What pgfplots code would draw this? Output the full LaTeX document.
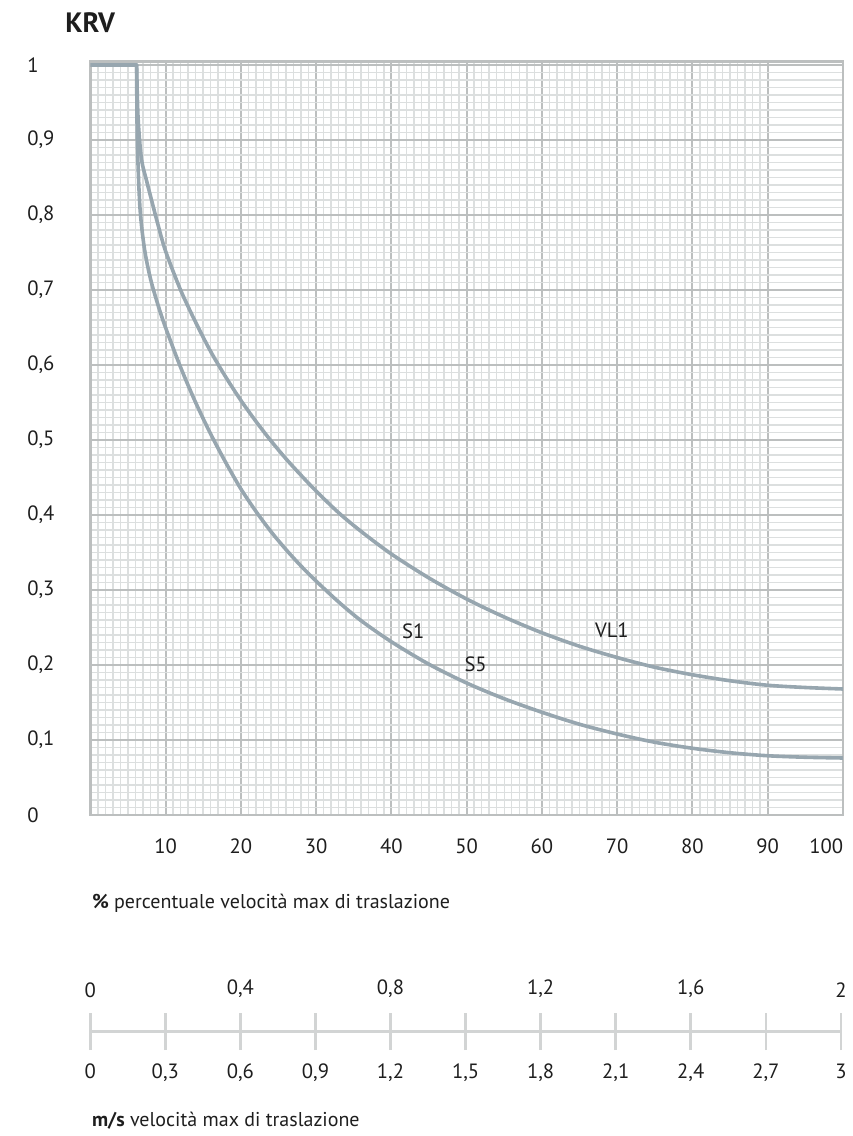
\documentclass[border=0pt]{standalone}
\usepackage{fontspec}
\setmainfont{PT Sans}
\usepackage{pgfplots}
\pgfplotsset{compat=1.18}
\definecolor{curve}{HTML}{97A6AF}
\definecolor{gmaj}{HTML}{BCBFBF}
\definecolor{gmin}{HTML}{DCDFDF}
\definecolor{scal}{HTML}{D2D4D4}
\definecolor{txt}{HTML}{1E1E1E}
\begin{document}
\begin{tikzpicture}[x=1pt,y=1pt]
\useasboundingbox (0,0) rectangle (639.75,852);
\begin{axis}[
  at={(67.7pt,240.75pt)}, anchor=south west,
  scale only axis, width=564.5pt, height=565.3pt,
  xmin=0, xmax=100, ymin=0, ymax=1.005,
  xtick={0,10,20,30,40,50,60,70,80,90},
  xticklabels={,10,20,30,40,50,60,70,80,90},
  extra x ticks={100}, extra x tick labels={100},
  extra x tick style={xticklabel style={xshift=-12.5pt}},
  ytick={0,0.1,0.2,0.3,0.4,0.5,0.6,0.7,0.8,0.9,1},
  yticklabels={0,{0,1},{0,2},{0,3},{0,4},{0,5},{0,6},{0,7},{0,8},{0,9},1},
  minor x tick num=9, minor y tick num=9,
  grid=both,
  major grid style={draw=gmaj, line width=1.5pt},
  minor grid style={draw=gmin, line width=1.1pt},
  major tick length=0pt, minor tick length=0pt,
  axis line style={draw=gmaj, line width=2pt},
  tick label style={font=\fontsize{15.5}{18}\selectfont, text=txt},
  xticklabel style={yshift=-14.2pt},
  yticklabel style={anchor=west, xshift=-50.75pt},
]
\addplot[curve, line width=2.7pt, line cap=round] coordinates {(0,1) (6.16,1)};
\addplot[curve, line width=2.7pt, smooth, line cap=round, line join=round] coordinates {
(6.16,1.0) (6.35,0.93) (6.8,0.875) (7.5,0.845) (8.37,0.811) (9,0.787) (10,0.752)
(12,0.700) (14,0.657) (16,0.618) (18,0.584) (20,0.553) (22,0.525) (24,0.499)
(26,0.475) (28,0.453) (30,0.432) (33,0.403) (36,0.378) (40,0.348) (45,0.316)
(50,0.288) (55,0.264) (60,0.243) (65,0.225) (70,0.210) (75,0.197) (80,0.187)
(85,0.179) (90,0.173) (95,0.170) (100,0.168)};
\addplot[curve, line width=2.7pt, smooth, line cap=round, line join=round] coordinates {
(6.16,1.0) (6.25,0.9) (6.6,0.81) (7.2,0.755) (8,0.715) (9,0.680) (10,0.650)
(12,0.597) (14,0.550) (16,0.508) (18,0.470) (20,0.435) (22,0.405) (24,0.378)
(26,0.354) (28,0.332) (30,0.312) (33,0.284) (36,0.259) (40,0.231) (45,0.201)
(50,0.176) (55,0.155) (60,0.137) (65,0.121) (70,0.108) (75,0.097) (80,0.089)
(85,0.083) (90,0.079) (95,0.077) (100,0.076)};
\node[font=\fontsize{15.5}{18}\selectfont, text=txt] at (axis cs:42.9,0.245) {S1};
\node[font=\fontsize{15.5}{18}\selectfont, text=txt] at (axis cs:51.2,0.2007) {S5};
\node[font=\fontsize{15.5}{18}\selectfont, text=txt] at (axis cs:69.3,0.246) {VL1};
\end{axis}
% lower scale 0..3 m/s
\begin{axis}[
  at={(67.7pt,78.2pt)}, anchor=south west,
  scale only axis, width=563pt, height=1pt,
  xmin=0, xmax=3, ymin=0, ymax=1,
  axis y line=none, axis x line*=bottom,
  xtick={0,0.3,0.6,0.9,1.2,1.5,1.8,2.1,2.4,2.7,3},
  xticklabels={0,{0,3},{0,6},{0,9},{1,2},{1,5},{1,8},{2,1},{2,4},{2,7},3},
  tick align=center, major tick length=27.75pt,
  x axis line style={draw=scal, line width=2pt},
  every tick/.style={draw=scal, line width=2pt},
  tick label style={font=\fontsize{15.5}{18}\selectfont, text=txt},
  xticklabel style={yshift=-6.45pt},
]
\end{axis}
% upper scale 0..2
\begin{axis}[
  at={(67.7pt,77.2pt)}, anchor=south west,
  scale only axis, width=563pt, height=1pt,
  xmin=0, xmax=2, ymin=0, ymax=1,
  axis y line=none, axis x line*=top,
  x axis line style={draw=none},
  xtick={0,0.4,0.8,1.2,1.6,2},
  xticklabels={0,{0,4},{0,8},{1,2},{1,6},2},
  major tick length=0pt,
  tick label style={font=\fontsize{15.5}{18}\selectfont, text=txt},
  xticklabel style={yshift=22.2pt},
]
\end{axis}
\node[anchor=west, inner sep=0pt, font=\fontsize{21}{24}\selectfont\bfseries, text=txt] at (48.75,834.75) {KRV};
\node[anchor=base west, inner sep=0pt, font=\fontsize{15}{18}\selectfont, text=txt] at (68.8,170.25) {\textbf{\%} percentuale velocità max di traslazione};
\node[anchor=base west, inner sep=0pt, font=\fontsize{15}{18}\selectfont, text=txt] at (68.8,6.75) {\textbf{m/s} velocità max di traslazione};
\end{tikzpicture}
\end{document}
